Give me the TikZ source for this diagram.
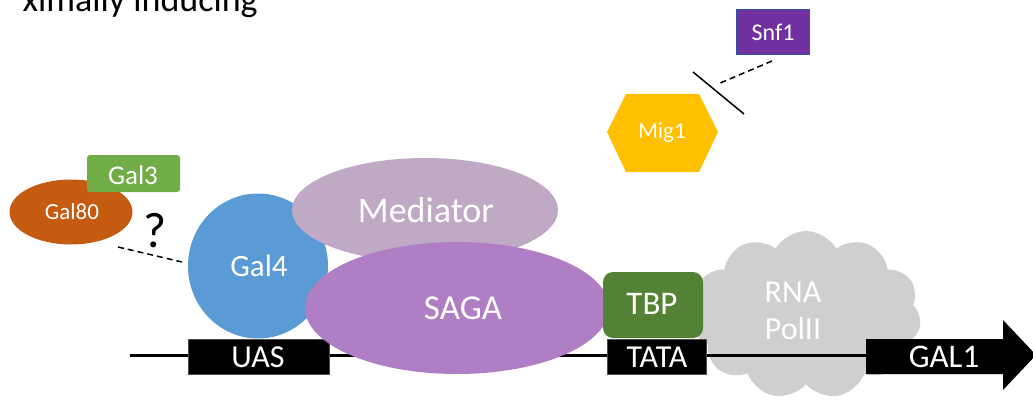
\documentclass[tikz,border=0pt]{standalone}
\usepackage{fontspec}
\setmainfont{Carlito}
\usetikzlibrary{shapes.geometric,shapes.symbols}
\definecolor{gfour}{RGB}{91,155,213}
\definecolor{medc}{RGB}{191,169,196}
\definecolor{sagac}{RGB}{176,126,196}
\definecolor{galeighty}{RGB}{197,90,17}
\definecolor{galthree}{RGB}{112,173,71}
\definecolor{tbpc}{RGB}{84,130,53}
\definecolor{migc}{RGB}{255,192,0}
\definecolor{snfc}{RGB}{112,48,160}
\definecolor{snfb}{RGB}{47,85,151}
\definecolor{cloudc}{RGB}{208,206,206}
\begin{document}
\begin{tikzpicture}[x=1pt,y=-1pt,
  blob/.style={ellipse, inner sep=0pt, draw=none},
  wtext/.style={text=white, inner sep=0pt},
  dnabox/.style={fill=black, draw=black!70, line width=0.6pt, inner sep=0pt},
  dashlink/.style={line width=1.5pt, dash pattern=on 6pt off 4pt},
]
\useasboundingbox (0,0) rectangle (1033,401);

% title fragment
\node[anchor=base east, inner sep=0pt, font=\fontsize{36}{40}\selectfont] (title) at (258,12) {ximally inducing};

% RNA Pol II cloud
\node[cloud, cloud puffs=11, cloud puff arc=120, aspect=1.3, fill=cloudc, draw=none,
      minimum width=230pt, minimum height=168pt, inner sep=0pt] (pol) at (806,315) {};

% DNA
\coordinate (dnaL) at (130,355);
\coordinate (dnaR) at (870,355);
\draw[line width=3pt] (dnaL) -- (dnaR);

\node[dnabox, minimum width=141pt, minimum height=35pt] (uas) at (258.5,356.5) {};
\node[wtext, font=\fontsize{32}{36}\selectfont] (uast) at (258,357) {UAS};
\node[dnabox, minimum width=99pt, minimum height=35pt] (tata) at (656.5,356.5) {};
\node[wtext, font=\fontsize{32}{36}\selectfont] (tatat) at (657,357) {TATA};

% GAL1 arrow
\fill[black] (866,339) -- (1003,339) -- (1003,320) -- (1036,355) -- (1003,390) -- (1003,374) -- (866,374) -- cycle;
\node[wtext, font=\fontsize{33}{36}\selectfont] (gal1) at (944,357) {GAL1};

% proteins
\node[blob, fill=gfour, minimum width=140pt, minimum height=145pt] (gal4) at (258,266) {};
\node[wtext, font=\fontsize{31}{36}\selectfont] (gal4t) at (259,266) {Gal4};

\node[blob, fill=medc, minimum width=266pt, minimum height=104pt] (med) at (425,210) {};
\node[wtext, font=\fontsize{36}{40}\selectfont] (medt) at (426,210) {Mediator};

\node[blob, fill=sagac, minimum width=304pt, minimum height=132pt] (saga) at (457,308) {};
\node[wtext, font=\fontsize{35}{40}\selectfont] (sagat) at (463,308) {SAGA};

\node[fill=tbpc, rounded corners=10pt, minimum width=100pt, minimum height=66pt, inner sep=0pt] (tbp) at (653,305) {};
\node[wtext, font=\fontsize{33}{36}\selectfont] (tbpt) at (652,304) {TBP};

\node[wtext, align=center, font=\fontsize{32}{37}\selectfont] (polt) at (793,311) {RNA\\PolII};

% Gal80 / Gal3
\node[blob, fill=galeighty, minimum width=123pt, minimum height=65pt] (gal80) at (71,212) {};
\node[wtext, font=\fontsize{23}{26}\selectfont] (gal80t) at (72,212) {Gal80};
\node[fill=galthree, rounded corners=3pt, minimum width=93pt, minimum height=37pt, inner sep=0pt] (gal3) at (133.5,173.5) {};
\node[wtext, font=\fontsize{27}{30}\selectfont] (gal3t) at (133,175) {Gal3};
\node[inner sep=0pt, font=\fontsize{50}{52}\selectfont] (q) at (155,231) {?};
\coordinate (dA) at (118,247);
\coordinate (dB) at (182,262);
\draw[dashlink] (dA) -- (dB);

% Mig1 / Snf1
\fill[migc] (607,132) -- (626,94) -- (699,94) -- (718,132) -- (699,172) -- (626,172) -- cycle;
\node[wtext, font=\fontsize{23}{26}\selectfont] (mig1) at (662,133) {Mig1};
\node[fill=snfc, draw=snfb, line width=1.5pt, minimum width=73pt, minimum height=45pt, inner sep=0pt] (snf1) at (773,32) {};
\node[wtext, font=\fontsize{24}{26}\selectfont] (snf1t) at (773,32) {Snf1};
\coordinate (sA) at (772,61);
\coordinate (sB) at (718,84);
\coordinate (bA) at (693,72);
\coordinate (bB) at (744,114);
\draw[dashlink] (sA) -- (sB);
\draw[line width=1.5pt] (bA) -- (bB);
\end{tikzpicture}
\end{document}
